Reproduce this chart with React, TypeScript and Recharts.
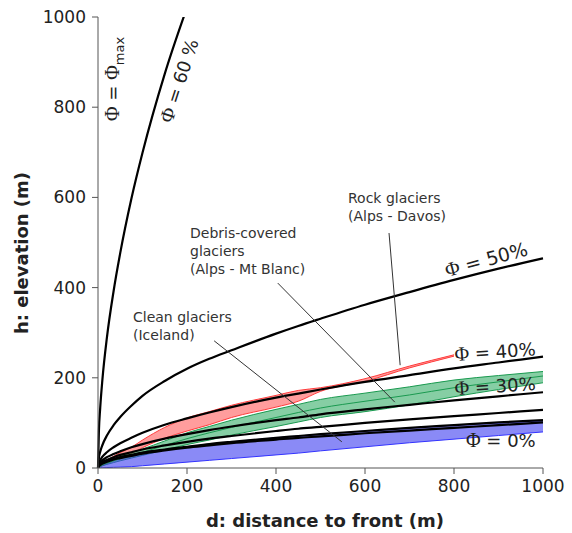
import React from "react";
import { ComposedChart, Line, Area, XAxis, YAxis, ReferenceLine } from "recharts";

// distance to front (m)
const D = [0, 2, 5, 10, 20, 35, 50, 75, 100, 150, 200, 250, 300, 400, 450, 500, 600, 700, 800, 900, 1000];

// elevation curves h (m) for each Φ
const phi60 = [0, 81, 134, 197, 289, 392, 477, 597, 699, 874, 1021, null, null, null, null, null, null, null, null, null, null];
const phi50 = [0, 22, 36, 51, 72, 95, 113, 138, 160, 193, 220, 242, 261, 298, 315, 331, 362, 390, 417, 442, 465];
const phi40 = [0, 11, 17, 25, 35, 46, 55, 67, 78, 96, 110, 123, 135, 156, 165, 174, 191, 206, 221, 234, 247];
const phi30 = [0, 7, 12, 17, 24, 31, 37, 46, 53, 65, 75, 84, 92, 106, 112, 119, 130, 140, 150, 159, 168];
const phi20 = [0, 6, 9, 13, 18, 24, 29, 35, 41, 50, 58, 65, 71, 82, 87, 91, 100, 108, 115, 122, 129];
const phi10 = [0, 5, 7, 11, 15, 20, 24, 29, 34, 41, 47, 53, 58, 67, 71, 75, 82, 89, 95, 101, 106];
const phi0 = [0, 4, 7, 10, 14, 19, 22, 27, 32, 39, 45, 50, 55, 63, 67, 70, 77, 83, 89, 95, 101];

// observed glacier bands
const blueLow = [0, 0, 0, 0.5, 1, 1.5, 2, 3, 5, 9, 13, 17, 21, 29, 33, 38, 47, 56, 64, 72, 80];
const blueHigh = [0, 5, 7, 11, 15, 20, 24, 29, 34, 41, 47, 53, 58, 67, 71, 75, 82, 89, 95, 100, 105];
const greenLow = [0, 2, 3, 5, 8, 12, 16, 22, 28, 40, 52, 62, 73, 92, 102, 112, 125, 140, 158, 174, 189];
const greenHigh = [0, 3, 6, 9, 14, 20, 26, 34, 42, 60, 78, 92, 106, 130, 141, 152, 166, 180, 195, 205, 214];
const greenMid = [0, 2, 4, 7, 11, 16, 21, 28, 35, 50, 65, 78, 90, 112, 123, 133, 148, 162, 178, 191, 204];
const redLow = [0, 1, 3, 5, 10, 16, 22, 32, 45, 66, 82, 96, 112, 135, 148, 170, 192, 222, 248, null, null];
const redHigh = [0, 2, 5, 9, 17, 26, 34, 46, 62, 90, 111, 125, 139, 161, 172, 178, 198, 226, 251, null, null];

const ticks = [0, 200, 400, 600, 800, 1000];

// leader lines for annotations (data coords)
const leaders = [
  { x1: 654, y1: 521, x2: 679, y2: 228 },
  { x1: 404, y1: 410, x2: 667, y2: 146 },
  { x1: 261, y1: 282, x2: 548, y2: 58 },
];

const table = D.map((d, i) => ({
  d,
  phi60: phi60[i],
  phi50: phi50[i],
  phi40: phi40[i],
  phi30: phi30[i],
  phi20: phi20[i],
  phi10: phi10[i],
  phi0: phi0[i],
  blue: [blueLow[i], blueHigh[i]],
  green: [greenLow[i], greenHigh[i]],
  greenMid: greenMid[i],
  red: redLow[i] == null ? null : [redLow[i], redHigh[i]],
}));

const FONT = "'DejaVu Sans', Verdana, sans-serif";
const SERIF = "'Liberation Serif', 'DejaVu Serif', serif";
const blackKeys = ["phi60", "phi50", "phi40", "phi30", "phi20", "phi10", "phi0"];

const Phi = () => <tspan fontFamily={SERIF} fontSize={20}>Φ</tspan>;

export default function App() {
  return (
    <div style={{ position: "absolute", left: 0, top: 0, width: 572, height: 533, background: "#fff" }}>
      <ComposedChart
        width={572}
        height={533}
        data={table}
        margin={{ top: 17, right: 29, left: 0, bottom: 0 }}
        style={{ fontFamily: FONT }}
      >
        <XAxis
          dataKey="d"
          type="number"
          domain={[0, 1000]}
          ticks={ticks}
          height={65}
          tickSize={6}
          tickMargin={6}
          stroke="#555"
          tick={{ fill: "#222", fontSize: 17, fontFamily: FONT }}
        />
        <YAxis
          type="number"
          domain={[0, 1000]}
          ticks={ticks}
          allowDataOverflow
          width={98}
          tickSize={6}
          tickMargin={6}
          stroke="#555"
          tick={{ fill: "#222", fontSize: 17, fontFamily: FONT }}
        />
        <Area type="monotone" dataKey="red" stroke="#ff3b3b" strokeWidth={1} fill="#ff4d4d" fillOpacity={0.55} isAnimationActive={false} />
        <Area type="monotone" dataKey="green" stroke="#1a9a50" strokeWidth={1} fill="#22a559" fillOpacity={0.55} isAnimationActive={false} />
        <Line type="monotone" dataKey="greenMid" stroke="#1a9a50" strokeWidth={1} dot={false} isAnimationActive={false} />
        <Area type="monotone" dataKey="blue" stroke="#3333ff" strokeWidth={1} fill="#3c3cf0" fillOpacity={0.6} isAnimationActive={false} />
        {blackKeys.map((k) => (
          <Line key={k} type="monotone" dataKey={k} stroke="#000" strokeWidth={2.2} dot={false} isAnimationActive={false} />
        ))}
        {leaders.map((l, i) => (
          <ReferenceLine
            key={i}
            segment={[{ x: l.x1, y: l.y1 }, { x: l.x2, y: l.y2 }]}
            stroke="#333"
            strokeWidth={1}
            ifOverflow="visible"
          />
        ))}
      </ComposedChart>
      <svg width={572} height={533} style={{ position: "absolute", left: 0, top: 0, pointerEvents: "none" }} fontFamily={FONT}>
        <text x={28} y={253} textAnchor="middle" fontSize={18} fontWeight="bold" fill="#222" transform="rotate(-90 28 253)">
          h: elevation (m)
        </text>
        <text x={325} y={527} textAnchor="middle" fontSize={18} fontWeight="bold" fill="#222">
          d: distance to front (m)
        </text>
        <g fill="#333" fontSize={14}>
          <text x={348} y={203}>Rock glaciers</text>
          <text x={348} y={221}>(Alps - Davos)</text>
          <text x={190} y={238}>Debris-covered</text>
          <text x={190} y={256}>glaciers</text>
          <text x={190} y={274}>(Alps - Mt Blanc)</text>
          <text x={133} y={322}>Clean glaciers</text>
          <text x={133} y={340}>(Iceland)</text>
        </g>
        <g fill="#222" fontSize={18}>
          <text x={119} y={121} transform="rotate(-90 119 121)">
            <Phi /> = <Phi /><tspan fontSize={13} dy={5}>max</tspan>
          </text>
          <text x={172} y={124} transform="rotate(-72 172 124)"><Phi /> = 60 %</text>
          <text x={447} y={277} fontSize={19} transform="rotate(-15 447 277)"><Phi /> = 50%</text>
          <text x={455} y={361} transform="rotate(-4 455 361)"><Phi /> = 40%</text>
          <text x={455} y={395} transform="rotate(-3.5 455 395)"><Phi /> = 30%</text>
          <text x={466} y={447}><Phi /> = 0%</text>
        </g>
      </svg>
    </div>
  );
}
